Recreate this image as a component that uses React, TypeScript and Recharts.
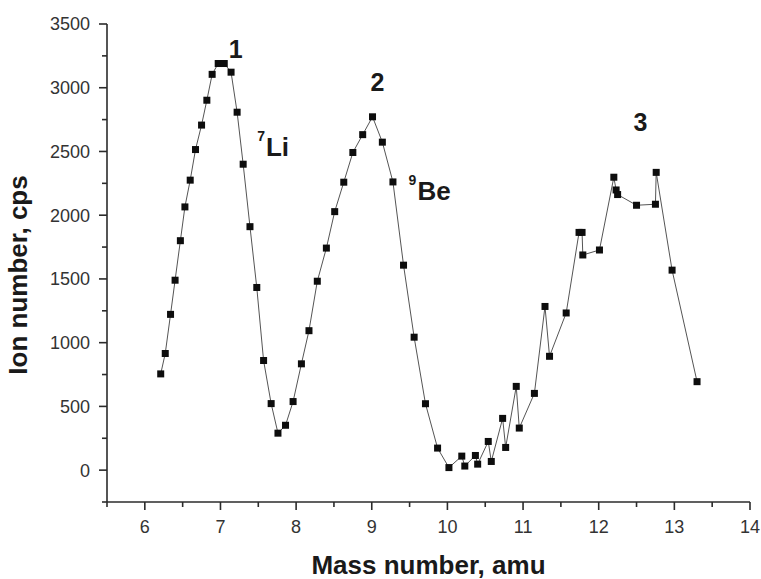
import { LineChart, Line, XAxis, YAxis, ReferenceDot, Label } from "recharts";

// mass number (amu) of every measured point
const massNumbers = [
  6.21, 6.27, 6.34, 6.40, 6.47, 6.53, 6.60, 6.67, 6.75, 6.82, 6.89, 6.97, 7.05, 7.14,
  7.22, 7.30, 7.39, 7.48, 7.57, 7.67, 7.76, 7.86, 7.96, 8.07, 8.17, 8.28, 8.40, 8.51,
  8.63, 8.75, 8.88, 9.01, 9.14, 9.28, 9.42, 9.56, 9.71, 9.87, 10.02, 10.19, 10.23, 10.37,
  10.40, 10.54, 10.58, 10.73, 10.77, 10.91, 10.95, 11.15, 11.29, 11.35, 11.57, 11.74,
  11.78, 11.79, 12.01, 12.20, 12.23, 12.25, 12.50, 12.75, 12.76, 12.97, 13.30,
];

// ion counts (cps)
const ionCounts = [
  755, 915, 1222, 1490, 1800, 2065, 2275, 2515, 2707, 2902, 3105, 3190, 3190, 3122,
  2808, 2400, 1910, 1433, 860, 522, 290, 352, 538, 834, 1094, 1482, 1742, 2028,
  2259, 2492, 2632, 2772, 2573, 2261, 1608, 1043, 521, 173, 20, 110, 32, 115,
  47, 225, 68, 406, 178, 657, 330, 602, 1284, 893, 1233, 1865,
  1865, 1688, 1727, 2298, 2198, 2162, 2078, 2086, 2336, 1569, 694,
];

const xTicks = [5.5, 6, 6.5, 7, 7.5, 8, 8.5, 9, 9.5, 10, 10.5, 11, 11.5, 12, 12.5, 13, 13.5, 14];
const yTicks = [-250, 0, 250, 500, 750, 1000, 1250, 1500, 1750, 2000, 2250, 2500, 2750, 3000, 3250, 3500];

// peak annotations: [x, y, number]
const peakNumbers: [number, number, string][] = [
  [7.2, 3231, "1"],
  [9.074, 2974, "2"],
  [12.552, 2662, "3"],
];
// isotope labels: [x, y, mass, symbol]
const isotopes: [number, number, string, string][] = [
  [7.485, 2463, "7", "Li"],
  [9.487, 2117, "9", "Be"],
];

const data = massNumbers.map((x, i) => ({ x, y: ionCounts[i] }));

const FONT = "'Liberation Sans', Arial, Helvetica, sans-serif";
const AXIS = "#2b2b2b";

const SquareDot = (p: any) => (
  <rect key={p.index} x={p.cx - 3.5} y={p.cy - 3.5} width={7} height={7} fill="#0d0d0d" />
);

const XTick = (p: any) => {
  const v = p.payload.value;
  const major = Number.isInteger(v);
  const ay = p.y - 18;
  return (
    <g>
      <line x1={p.x} x2={p.x} y1={ay} y2={ay + (major ? 8 : 5)} stroke={AXIS} strokeWidth={1.6} />
      {major && (
        <text x={p.x} y={p.y} dy="0.71em" textAnchor="middle" fontSize={18} fill="#333" fontFamily={FONT}>
          {v}
        </text>
      )}
    </g>
  );
};

const YTick = (p: any) => {
  const v = p.payload.value;
  const major = v % 500 === 0;
  const ax = p.x + 17;
  return (
    <g>
      <line x1={ax} x2={ax - (major ? 8 : 5)} y1={p.y} y2={p.y} stroke={AXIS} strokeWidth={1.6} />
      {major && (
        <text x={p.x} y={p.y} dy="0.355em" textAnchor="end" fontSize={18} fill="#333" fontFamily={FONT}>
          {v}
        </text>
      )}
    </g>
  );
};

export default function App() {
  return (
    <div style={{ position: "absolute", left: 0, top: 0, width: 761, height: 579, background: "#fff" }}>
      <LineChart width={761} height={579} data={data} margin={{ top: 24, right: 11, left: 0, bottom: 0 }}>
        <XAxis
          type="number"
          dataKey="x"
          domain={[5.5, 14]}
          ticks={xTicks}
          interval={0}
          height={77}
          tickSize={8}
          tickMargin={10}
          tickLine={false}
          tick={<XTick />}
          axisLine={{ stroke: AXIS, strokeWidth: 1.6 }}
        >
          <Label
            content={(lp: any) => (
              <text
                x={lp.viewBox.x + lp.viewBox.width / 2}
                y={lp.viewBox.y + 72}
                textAnchor="middle"
                fontSize={26}
                fontWeight="bold"
                fill="#1a1a1a"
                fontFamily={FONT}
              >
                Mass number, amu
              </text>
            )}
          />
        </XAxis>
        <YAxis
          type="number"
          domain={[-250, 3500]}
          ticks={yTicks}
          interval={0}
          width={107}
          tickSize={8}
          tickMargin={9}
          tickLine={false}
          tick={<YTick />}
          axisLine={{ stroke: AXIS, strokeWidth: 1.6 }}
        >
          <Label
            content={() => (
              <text
                x={27}
                y={275}
                transform="rotate(-90 27 275)"
                textAnchor="middle"
                fontSize={26}
                fontWeight="bold"
                fill="#1a1a1a"
                fontFamily={FONT}
              >
                Ion number, cps
              </text>
            )}
          />
        </YAxis>
        <Line
          type="linear"
          dataKey="y"
          stroke="#555"
          strokeWidth={1}
          dot={SquareDot}
          activeDot={false}
          isAnimationActive={false}
        />
        {peakNumbers.map(([x, y, n]) => (
          <ReferenceDot
            key={n}
            x={x}
            y={y}
            r={0}
            shape={(s: any) => (
              <text x={s.cx} y={s.cy} textAnchor="middle" fontSize={25} fontWeight="bold" fill="#1a1a1a" fontFamily={FONT}>
                {n}
              </text>
            )}
          />
        ))}
        {isotopes.map(([x, y, m, sym]) => (
          <ReferenceDot
            key={sym}
            x={x}
            y={y}
            r={0}
            shape={(s: any) => (
              <text x={s.cx} y={s.cy} fontWeight="bold" fill="#1a1a1a" fontFamily={FONT}>
                <tspan fontSize={14} dy={-15}>{m}</tspan>
                <tspan fontSize={26} dy={15} dx={1}>{sym}</tspan>
              </text>
            )}
          />
        ))}
      </LineChart>
    </div>
  );
}
